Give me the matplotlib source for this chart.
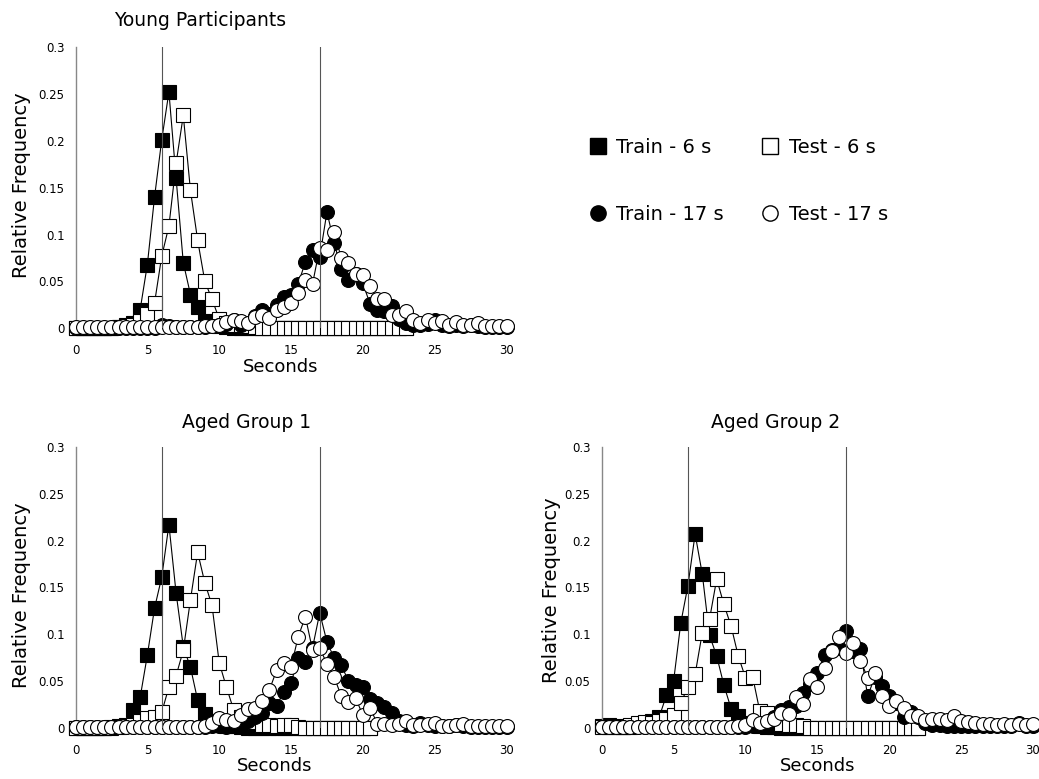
import numpy as np
import matplotlib
matplotlib.use("Agg")
import matplotlib.pyplot as plt
from matplotlib.lines import Line2D

# bins every 0.5 s, 0 .. 30 s
secs = np.arange(61) * 0.5

# ---- Young Participants ----
young_train6 = [0, 0, 0, 0, 0, 0, 0.001, 0.003, 0.006, 0.020, 0.068, 0.140, 0.201, 0.252, 0.160, 0.070,
                0.036, 0.023, 0.008, 0.004, 0.002, 0.001, 0, 0, 0, 0, 0, 0, 0, 0, 0, 0,
                0, 0, 0, 0, 0, 0, 0, 0, 0, 0, 0, 0, 0, 0, 0]
young_test6 = [0, 0, 0, 0, 0, 0, 0.001, 0.002, 0.004, 0.008, 0.015, 0.027, 0.077, 0.109, 0.176, 0.227,
               0.147, 0.094, 0.050, 0.031, 0.010, 0.006, 0.004, 0.003, 0.002, 0.001, 0, 0, 0, 0, 0, 0,
               0, 0, 0, 0, 0, 0, 0, 0, 0, 0, 0, 0, 0, 0, 0]
young_train17 = [0, 0, 0, 0, 0, 0, 0, 0, 0, 0, 0, 0, 0.004, 0.002, 0.001, 0.001, 0.001, 0.001, 0.001,
                 0.002, 0.003, 0.005, 0.009, 0.004, 0.006, 0.013, 0.020, 0.015, 0.025, 0.033, 0.035,
                 0.047, 0.071, 0.084, 0.076, 0.124, 0.091, 0.063, 0.052, 0.058, 0.048, 0.026, 0.019,
                 0.018, 0.024, 0.010, 0.006, 0.004, 0.003, 0.005, 0.009, 0.004, 0.002, 0.003, 0.002,
                 0.004, 0.002, 0.001, 0.001, 0.001, 0.001]
young_test17 = [0.001, 0.001, 0.001, 0.001, 0.001, 0.001, 0.001, 0.001, 0.001, 0.001, 0.001, 0.001,
                0.001, 0.001, 0.001, 0.001, 0.001, 0.001, 0.002, 0.002, 0.004, 0.007, 0.009, 0.008,
                0.006, 0.0125, 0.014, 0.011, 0.020, 0.023, 0.027, 0.038, 0.051, 0.0475, 0.086, 0.084,
                0.1025, 0.075, 0.070, 0.058, 0.057, 0.045, 0.031, 0.031, 0.014, 0.014, 0.018, 0.009,
                0.006, 0.009, 0.006, 0.008, 0.003, 0.007, 0.003, 0.003, 0.006, 0.002, 0.002, 0.002,
                0.002]

# ---- Aged Group 1 ----
aged1_train6 = [0, 0, 0, 0, 0, 0.001, 0.002, 0.004, 0.019, 0.033, 0.078, 0.128, 0.161, 0.217, 0.144,
                0.087, 0.065, 0.030, 0.015, 0.008, 0.004, 0.002, 0.002, 0.001, 0, 0, 0, 0, 0, 0,
                0, 0, 0, 0, 0, 0, 0, 0, 0, 0, 0, 0]
aged1_test6 = [0, 0, 0, 0, 0, 0, 0.001, 0.002, 0.004, 0.008, 0.011, 0.012, 0.017, 0.044, 0.056, 0.083,
               0.137, 0.1875, 0.155, 0.131, 0.070, 0.044, 0.020, 0.012, 0.008, 0.007, 0.004, 0.003,
               0.002, 0.003, 0.003, 0.001, 0, 0, 0, 0, 0, 0, 0, 0, 0, 0]
aged1_train17 = [0.001, 0.001, 0.001, 0.001, 0.001, 0.001, 0.001, 0.001, 0.001, 0.001, 0.001, 0.001,
                 0.001, 0.001, 0.001, 0.001, 0.001, 0.001, 0.001, 0.002, 0.002, 0.001, 0.002, 0.004,
                 0.008, 0.012, 0.016, 0.027, 0.024, 0.039, 0.048, 0.075, 0.071, 0.086, 0.123, 0.092,
                 0.075, 0.0675, 0.050, 0.046, 0.044, 0.031, 0.027, 0.023, 0.016, 0.008, 0.004, 0.002,
                 0.006, 0.003, 0.002, 0.002, 0.002, 0.004, 0.002, 0.001, 0.001, 0.001, 0.001, 0.001,
                 0.001]
aged1_test17 = [0.001, 0.001, 0.001, 0.001, 0.001, 0.001, 0.001, 0.001, 0.001, 0.001, 0.001, 0.001,
                0.001, 0.001, 0.001, 0.001, 0.001, 0.001, 0.002, 0.006, 0.011, 0.009, 0.008, 0.014,
                0.021, 0.022, 0.029, 0.041, 0.062, 0.070, 0.065, 0.0976, 0.119, 0.083, 0.085, 0.069,
                0.055, 0.034, 0.028, 0.032, 0.014, 0.022, 0.005, 0.005, 0.004, 0.005, 0.008, 0.003,
                0.004, 0.005, 0.006, 0.002, 0.002, 0.004, 0.005, 0.002, 0.002, 0.002, 0.002, 0.002,
                0.002]

# ---- Aged Group 2 ----
aged2_train6 = [0.002, 0.003, 0.002, 0.001, 0.001, 0.002, 0.005, 0.008, 0.012, 0.035, 0.050, 0.112,
                0.152, 0.207, 0.164, 0.099, 0.077, 0.046, 0.021, 0.013, 0.006, 0.003, 0.002, 0.001,
                0.001, 0, 0, 0, 0, 0, 0, 0, 0, 0, 0, 0, 0, 0, 0, 0, 0, 0, 0, 0, 0]
aged2_test6 = [0.001, 0.001, 0.001, 0.001, 0.004, 0.006, 0.007, 0.006, 0.008, 0.010, 0.014, 0.027,
               0.044, 0.0575, 0.102, 0.116, 0.159, 0.132, 0.109, 0.077, 0.054, 0.055, 0.018, 0.016,
               0.008, 0.005, 0.003, 0.003, 0.002, 0, 0, 0, 0, 0, 0, 0, 0, 0, 0, 0, 0, 0, 0, 0, 0]
aged2_train17 = [0.001, 0.001, 0.001, 0.001, 0.001, 0.001, 0.001, 0.001, 0.001, 0.001, 0.001, 0.001,
                 0.001, 0.001, 0.001, 0.001, 0.001, 0.001, 0.001, 0.001, 0.001, 0.002, 0.002, 0.004,
                 0.012, 0.019, 0.023, 0.024, 0.038, 0.047, 0.059, 0.078, 0.083, 0.085, 0.104, 0.082,
                 0.084, 0.034, 0.055, 0.045, 0.034, 0.027, 0.012, 0.017, 0.012, 0.006, 0.004, 0.003,
                 0.002, 0.002, 0.002, 0.002, 0.002, 0.002, 0.002, 0.002, 0.002, 0.002, 0.006, 0.002,
                 0.002]
aged2_test17 = [0.001, 0.001, 0.001, 0.001, 0.001, 0.001, 0.001, 0.001, 0.001, 0.001, 0.001, 0.001,
                0.001, 0.001, 0.001, 0.001, 0.001, 0.001, 0.001, 0.002, 0.004, 0.009, 0.006, 0.008,
                0.010, 0.016, 0.015, 0.033, 0.026, 0.0525, 0.044, 0.064, 0.082, 0.0976, 0.080, 0.091,
                0.072, 0.054, 0.0586, 0.034, 0.024, 0.0295, 0.022, 0.0135, 0.013, 0.009, 0.010, 0.010,
                0.009, 0.013, 0.008, 0.007, 0.006, 0.005, 0.005, 0.004, 0.005, 0.004, 0.005, 0.004,
                0.005]

targets = [6, 17]
yticks = [0, 0.05, 0.1, 0.15, 0.2, 0.25, 0.3]
ytick_labels = ["0", "0.05", "0.1", "0.15", "0.2", "0.25", "0.3"]
xticks = [0, 5, 10, 15, 20, 25, 30]

panels = [
    ("Young Participants", young_train6, young_test6, young_train17, young_test17),
    ("Aged Group 1", aged1_train6, aged1_test6, aged1_train17, aged1_test17),
    ("Aged Group 2", aged2_train6, aged2_test6, aged2_train17, aged2_test17),
]

plt.rcParams['font.family'] = 'DejaVu Sans'
fig = plt.figure(figsize=(10.39, 7.79), dpi=100)

axes_rects = [
    [0.0727, 0.5786, 0.4148, 0.3611],
    [0.0727, 0.0651, 0.4148, 0.3615],
    [0.5791, 0.0651, 0.4151, 0.3615],
]
title_pos = [(0.1925, 0.974), (0.2377, 0.457), (0.746, 0.457)]
ylab_pos = [(0.0205, 0.7625), (0.0205, 0.236), (0.531, 0.242)]
xlab_pos = [(0.2705, 0.5285), (0.2647, 0.0165), (0.787, 0.0165)]

ms = 10
line_kw = dict(color='black', lw=0.8, clip_on=False)

for i, (title, tr6, te6, tr17, te17) in enumerate(panels):
    ax = fig.add_axes(axes_rects[i])
    ax.plot(secs[:len(tr6)], tr6, marker='s', ms=ms, mfc='black', mec='black', mew=0.8, zorder=2, **line_kw)
    ax.plot(secs[:len(te6)], te6, marker='s', ms=ms, mfc='white', mec='black', mew=0.8, zorder=3, **line_kw)
    ax.plot(secs[:len(tr17)], tr17, marker='o', ms=ms, mfc='black', mec='black', mew=0.8, zorder=4, **line_kw)
    ax.plot(secs[:len(te17)], te17, marker='o', ms=ms, mfc='white', mec='black', mew=0.8, zorder=5, **line_kw)
    for t in targets:
        ax.axvline(t, color='#555555', lw=0.8, zorder=6)

    ax.set_xlim(0, 30)
    ax.set_ylim(0, 0.3)
    ax.set_xticks(xticks)
    ax.set_yticks(yticks)
    ax.set_yticklabels(ytick_labels)
    ax.tick_params(axis='both', length=0, labelsize=8.5)
    ax.tick_params(axis='y', pad=8)
    ax.tick_params(axis='x', pad=11)
    for side in ['top', 'right', 'bottom']:
        ax.spines[side].set_visible(False)
    ax.spines['left'].set_color('#888888')
    ax.spines['left'].set_linewidth(1.0)

    fig.text(title_pos[i][0], title_pos[i][1], title, ha='center', va='center', fontsize=13.5)
    fig.text(ylab_pos[i][0], ylab_pos[i][1], "Relative Frequency", ha='center', va='center',
             rotation=90, fontsize=14)
    fig.text(xlab_pos[i][0], xlab_pos[i][1], "Seconds", ha='center', va='center', fontsize=13)

# legend: filled = training, open = test
handles = [
    Line2D([], [], ls='none', marker='s', ms=11, mfc='black', mec='black'),
    Line2D([], [], ls='none', marker='o', ms=11, mfc='black', mec='black'),
    Line2D([], [], ls='none', marker='s', ms=11, mfc='white', mec='black'),
    Line2D([], [], ls='none', marker='o', ms=11, mfc='white', mec='black'),
]
labels = ["Train - 6 s", "Train - 17 s", "Test - 6 s", "Test - 17 s"]
fig.legend(handles, labels, ncol=2, frameon=False, fontsize=14,
           loc='center left', bbox_to_anchor=(0.549, 0.768),
           handlelength=1.0, handletextpad=0.45, columnspacing=1.9, labelspacing=2.45)

fig.savefig("out.png", dpi=100)
